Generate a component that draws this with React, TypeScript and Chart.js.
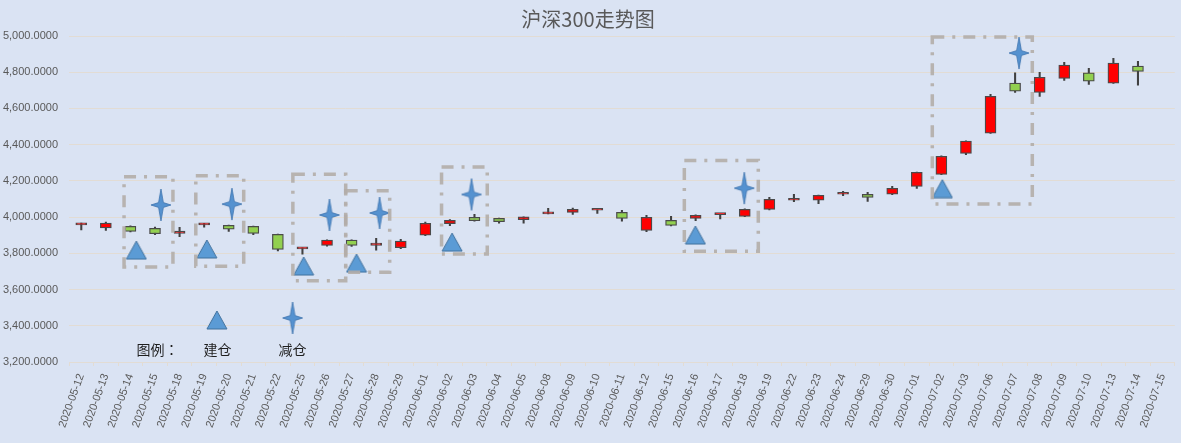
import React, { useEffect, useRef } from "react";
import { Chart, registerables, type ChartConfiguration, type Plugin } from "chart.js";

Chart.register(...registerables);

const labels = [
  "2020-05-12", "2020-05-13", "2020-05-14", "2020-05-15", "2020-05-18",
  "2020-05-19", "2020-05-20", "2020-05-21", "2020-05-22", "2020-05-25",
  "2020-05-26", "2020-05-27", "2020-05-28", "2020-05-29", "2020-06-01",
  "2020-06-02", "2020-06-03", "2020-06-04", "2020-06-05", "2020-06-08",
  "2020-06-09", "2020-06-10", "2020-06-11", "2020-06-12", "2020-06-15",
  "2020-06-16", "2020-06-17", "2020-06-18", "2020-06-19", "2020-06-22",
  "2020-06-23", "2020-06-24", "2020-06-29", "2020-06-30", "2020-07-01",
  "2020-07-02", "2020-07-03", "2020-07-06", "2020-07-07", "2020-07-08",
  "2020-07-09", "2020-07-10", "2020-07-13", "2020-07-14", "2020-07-15",
];

// OHLC (07-15 has no candle)
const opens = [
  3957, 3941, 3949, 3938, 3910, 3957, 3954, 3949, 3905, 3825,
  3844, 3873, 3844, 3831, 3900, 3964, 3999, 3993, 3986, 4018,
  4026, 4038, 4026, 3927, 3982, 3993, 4014, 4004, 4043, 4093,
  4093, 4126, 4126, 4126, 4170, 4236, 4352, 4463, 4740, 4689,
  4766, 4796, 4739, 4834, null,
];
const closes = [
  3958, 3967, 3921, 3908, 3923, 3958, 3933, 3910, 3822, 3826,
  3873, 3844, 3857, 3868, 3966, 3982, 3980, 3975, 4001, 4019,
  4043, 4039, 3993, 3999, 3954, 4010, 4015, 4043, 4098, 4094,
  4120, 4137, 4109, 4159, 4247, 4336, 4420, 4667, 4695, 4772,
  4840, 4750, 4851, 4805, null,
];
const highs = [
  3967, 3973, 3952, 3945, 3944, 3966, 3956, 3950, 3906, 3831,
  3874, 3874, 3883, 3877, 3973, 3986, 4015, 3995, 4002, 4048,
  4050, 4040, 4037, 4010, 4004, 4012, 4016, 4046, 4109, 4126,
  4121, 4142, 4137, 4170, 4248, 4338, 4421, 4678, 4796, 4800,
  4855, 4822, 4877, 4860, null,
];
const lows = [
  3929, 3927, 3918, 3903, 3892, 3945, 3921, 3903, 3814, 3795,
  3839, 3838, 3818, 3826, 3898, 3953, 3978, 3966, 3966, 4017,
  4015, 4021, 3977, 3919, 3952, 3980, 3990, 4002, 4040, 4085,
  4074, 4118, 4087, 4124, 4159, 4234, 4345, 4462, 4689, 4667,
  4755, 4733, 4738, 4728, null,
];

// 建仓 (triangles) and 减仓 (stars), x as category position
const buyX = [2.24, 5.11, 9.05, 11.2, 15.09, 24.99, 35.04];
const buyY = [3818, 3824, 3730, 3746, 3862, 3901, 4157];
const sellX = [3.24, 6.13, 10.1, 12.14, 15.88, 26.98, 38.16];
const sellY = [4067, 4072, 4012, 4023, 4125, 4160, 4906];

// dashed boxes
const boxX0 = [1.74, 4.66, 8.61, 10.76, 14.66, 24.54, 34.63];
const boxX1 = [3.73, 6.61, 10.76, 12.55, 16.52, 27.55, 38.7];
const boxTop = [4223, 4229, 4236, 4146, 4276, 4312, 4995];
const boxBottom = [3724, 3729, 3649, 3696, 3796, 3811, 4072];

// legend
const legendTexts = ["图例：", "建仓", "减仓"];
const legendTextX = [3.1, 5.54, 8.59];
const legendTextY = [3270, 3266, 3266];
const legendBuy = { x: 5.52, y: 3432 };
const legendSell = { x: 8.6, y: 3443 };

const bg = "#dae3f3";
const gridColor = "#e2dcd4";

function makeTriangle() {
  const c = document.createElement("canvas");
  c.width = 22;
  c.height = 20;
  const ctx = c.getContext("2d")!;
  ctx.beginPath();
  ctx.moveTo(11, 1);
  ctx.lineTo(21, 19);
  ctx.lineTo(1, 19);
  ctx.closePath();
  ctx.fillStyle = "#5b9bd5";
  ctx.fill();
  ctx.strokeStyle = "#41719c";
  ctx.lineWidth = 1;
  ctx.stroke();
  return c;
}

function makeStar() {
  const c = document.createElement("canvas");
  c.width = 22;
  c.height = 34;
  const ctx = c.getContext("2d")!;
  const cx = 11, cy = 17, rx = 10, ry = 16, r = 2.4;
  ctx.beginPath();
  ctx.moveTo(cx, cy - ry);
  ctx.lineTo(cx + r, cy - r);
  ctx.lineTo(cx + rx, cy);
  ctx.lineTo(cx + r, cy + r);
  ctx.lineTo(cx, cy + ry);
  ctx.lineTo(cx - r, cy + r);
  ctx.lineTo(cx - rx, cy);
  ctx.lineTo(cx - r, cy - r);
  ctx.closePath();
  ctx.fillStyle = "#5592d0";
  ctx.fill();
  ctx.strokeStyle = "#3f74ad";
  ctx.lineWidth = 0.8;
  ctx.stroke();
  return c;
}

const overlay: Plugin = {
  id: "overlay",
  afterDatasetsDraw(chart) {
    const { ctx } = chart;
    const xs = chart.scales.xm;
    const ys = chart.scales.y;
    ctx.save();
    ctx.setLineDash([12, 8, 3, 8]);
    ctx.lineWidth = 3.5;
    ctx.strokeStyle = "rgba(178,173,168,0.9)";
    boxX0.forEach((x0, i) => {
      const l = xs.getPixelForValue(x0);
      const r = xs.getPixelForValue(boxX1[i]);
      const t = ys.getPixelForValue(boxTop[i]);
      const b = ys.getPixelForValue(boxBottom[i]);
      ctx.strokeRect(l, t, r - l, b - t);
    });
    ctx.setLineDash([]);
    ctx.fillStyle = "#1f1f1f";
    ctx.font = '14px "Noto Sans CJK TC"';
    ctx.textAlign = "center";
    ctx.textBaseline = "middle";
    legendTexts.forEach((t, i) => {
      ctx.fillText(t, xs.getPixelForValue(legendTextX[i]), ys.getPixelForValue(legendTextY[i]));
    });
    ctx.restore();
  },
};

export default function App() {
  const canvasRef = useRef<HTMLCanvasElement | null>(null);
  const chartRef = useRef<Chart | null>(null);

  useEffect(() => {
    document.body.style.margin = "0";
    if (!canvasRef.current) return;

    const tri = makeTriangle();
    const star = makeStar();

    const bodyData = labels.map((_, i) =>
      opens[i] == null ? null : [opens[i] as number, closes[i] as number],
    );
    const wickData = labels.map((_, i) =>
      lows[i] == null ? null : [lows[i] as number, highs[i] as number],
    );
    const bodyColors = opens.map((o, i) =>
      (closes[i] as number) >= (o as number) ? "#ff0000" : "#92d050",
    );

    const config: ChartConfiguration = {
      type: "bar",
      data: {
        labels,
        datasets: [
          {
            label: "wick",
            data: wickData as any,
            backgroundColor: "#404040",
            barThickness: 1.4,
            grouped: false,
            order: 3,
          },
          {
            label: "body",
            data: bodyData as any,
            backgroundColor: bodyColors,
            borderColor: "#4a4a4a",
            borderWidth: 1.25,
            borderSkipped: false,
            barThickness: 11,
            minBarLength: 2,
            grouped: false,
            order: 2,
          },
          {
            type: "scatter",
            label: "建仓",
            data: [...buyX.map((x, i) => ({ x, y: buyY[i] })), legendBuy],
            xAxisID: "xm",
            pointStyle: tri,
            order: 1,
          } as any,
          {
            type: "scatter",
            label: "减仓",
            data: [...sellX.map((x, i) => ({ x, y: sellY[i] })), legendSell],
            xAxisID: "xm",
            pointStyle: star,
            order: 1,
          } as any,
        ],
      },
      options: {
        responsive: true,
        maintainAspectRatio: false,
        animation: false,
        layout: { padding: { left: 0, right: 5, top: 0, bottom: 0 } },
        plugins: {
          legend: { display: false },
          tooltip: { enabled: false },
          title: {
            display: true,
            text: "沪深300走势图",
            color: "#595959",
            font: { family: '"Noto Sans CJK SC"', size: 20, weight: "normal" },
            padding: { top: 7, bottom: 5 },
          },
        },
        scales: {
          x: {
            type: "category",
            offset: true,
            grid: {
              offset: true,
              drawOnChartArea: false,
              color: gridColor,
              tickLength: 4,
            },
            border: { color: gridColor },
            ticks: {
              color: "#595959",
              font: { family: '"Liberation Sans"', size: 11 },
              minRotation: 70,
              maxRotation: 70,
              autoSkip: false,
              padding: 6,
            },
            afterFit: (s: any) => {
              s.height = 81;
            },
          },
          xm: {
            type: "linear",
            axis: "x",
            position: "bottom",
            display: false,
            offset: false,
            bounds: "data",
            min: -0.5,
            max: 44.5,
            grid: { display: false, offset: false },
          },
          y: {
            type: "linear",
            min: 3200,
            max: 5000,
            grid: { color: gridColor, drawTicks: false },
            border: { display: false },
            ticks: {
              stepSize: 200,
              padding: 11,
              color: "#595959",
              font: { family: '"Liberation Sans"', size: 11 },
              callback: (v: any) =>
                Number(v).toLocaleString("en-US", {
                  minimumFractionDigits: 4,
                  maximumFractionDigits: 4,
                }),
            },
            afterFit: (s: any) => {
              s.width = 69;
            },
          },
        },
      },
      plugins: [overlay],
    };

    chartRef.current = new Chart(canvasRef.current, config);

    return () => {
      chartRef.current?.destroy();
      chartRef.current = null;
    };
  }, []);

  return (
    <div style={{ width: 1181, height: 443, background: bg, position: "relative" }}>
      <canvas ref={canvasRef} aria-label="沪深300走势图" />
    </div>
  );
}
